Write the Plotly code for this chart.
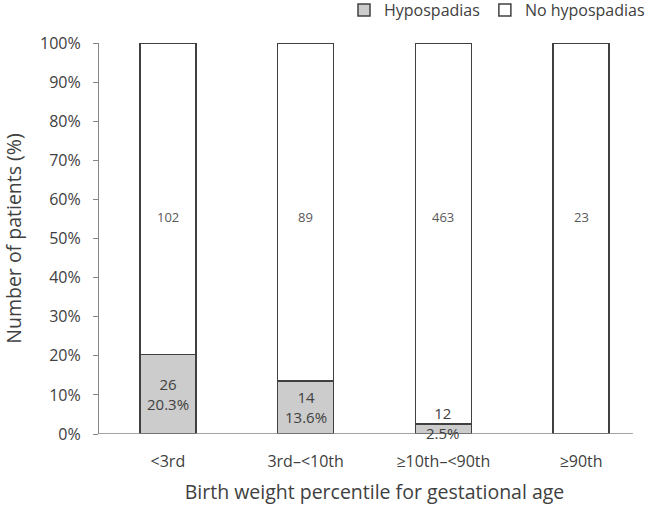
import plotly.graph_objects as go

categories = ["<3rd", "3rd\u2013<10th", "\u226510th\u2013<90th", "\u226590th"]
hypo_pct = [20.3, 13.6, 2.5, 0.0]
no_hypo_pct = [79.7, 86.4, 97.5, 100.0]
hypo_n = [26, 14, 12, 0]
no_hypo_n = [102, 89, 463, 23]
y_ticks = [0, 10, 20, 30, 40, 50, 60, 70, 80, 90, 100]

FONT = "Open Sans, Noto Sans, sans-serif"
x = list(range(len(categories)))

fig = go.Figure()
fig.add_trace(go.Bar(
    x=x, y=hypo_pct, name="Hypospadias", width=0.405,
    marker=dict(color="#cccccc", line=dict(color="#404040", width=1.5)),
))
fig.add_trace(go.Bar(
    x=x, y=no_hypo_pct, name="No hypospadias", width=0.405,
    marker=dict(color="#ffffff", line=dict(color="#404040", width=1.5)),
))

annotations = []
for i in x:
    if hypo_n[i] > 0:
        annotations.append(dict(
            x=i, y=max(hypo_pct[i] / 2, 2.8), xref="x", yref="y",
            text=f"{hypo_n[i]}<br>{hypo_pct[i]:.1f}%", showarrow=False,
            font=dict(family=FONT, size=15, color="#404040"),
            yanchor="middle",
        ))
    annotations.append(dict(
        x=i, y=55.6, xref="x", yref="y", text=str(no_hypo_n[i]), showarrow=False,
        font=dict(family=FONT, size=13, color="#595959"), yanchor="middle",
    ))

fig.update_layout(
    barmode="stack",
    width=650, height=507,
    margin=dict(l=99, r=0, t=43, b=73, autoexpand=False),
    plot_bgcolor="white", paper_bgcolor="white",
    font=dict(family=FONT, color="#404040"),
    showlegend=True,
    legend=dict(orientation="h", x=1.0, xanchor="right", y=0.98, yanchor="middle",
                yref="container", font=dict(family=FONT, size=16, color="#404040"),
                traceorder="normal", itemwidth=30, bgcolor="rgba(0,0,0,0)"),
    annotations=annotations,
    shapes=[dict(type="line", xref="paper", yref="y", x0=0, x1=0.969, y0=0, y1=0,
                 line=dict(color="#868686", width=1.5))],
    xaxis=dict(
        range=[-0.5, 3.5], tickvals=x, ticktext=categories,
        showline=False, showgrid=False, zeroline=False, ticks="",
        ticklabelstandoff=16,
        tickfont=dict(family=FONT, size=16, color="#404040"),
        title=dict(text="Birth weight percentile for gestational age",
                   font=dict(family=FONT, size=19.5, color="#404040"), standoff=14),
    ),
    yaxis=dict(
        range=[0, 100], tickvals=y_ticks, ticktext=[f"{v}%" for v in y_ticks],
        showline=True, linecolor="#868686", linewidth=1.2,
        ticks="outside", ticklen=5, tickcolor="#868686",
        ticklabelstandoff=9,
        showgrid=False, zeroline=False,
        tickfont=dict(family=FONT, size=16, color="#404040"),
        title=dict(text="Number of patients (%)",
                   font=dict(family=FONT, size=19.5, color="#404040"), standoff=19),
    ),
)

fig.write_html("out.html", config={"displayModeBar": False},
               post_script="document.body.style.margin='0';")
